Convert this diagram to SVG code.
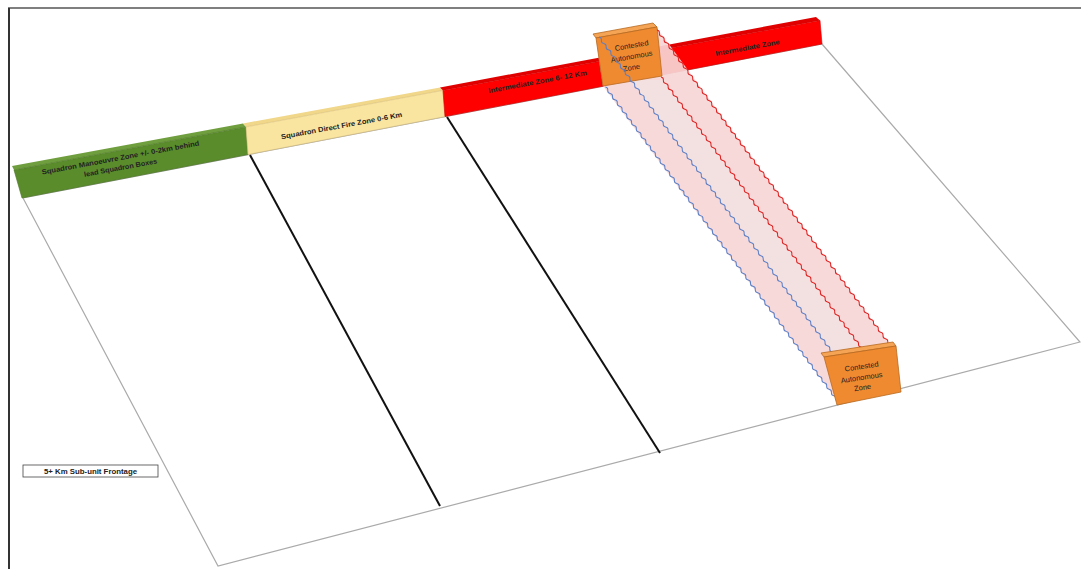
<svg xmlns="http://www.w3.org/2000/svg" width="1081" height="569" viewBox="0 0 1081 569">
<style>
.t{font-family:"Liberation Sans",Arial,sans-serif;fill:#222;text-anchor:middle}
.b{font-weight:bold;font-size:7px}
.n{font-size:7.5px}
.edge{fill:none;stroke:#aaa;stroke-width:1.2}
.div{stroke:#111;stroke-width:2;fill:none}
.wb{stroke:#5b7fc7;stroke-width:1;fill:none}
.wr{stroke:#e02020;stroke-width:1;fill:none}
.box{fill:#f08a30;stroke:#b8691f;stroke-width:0.8}
.boxtop{fill:#f5a455;stroke:#b8691f;stroke-width:0.8}
</style>
<defs>
<path id="wave" pathLength="404" d="M0 0 q2 -1.8 4 0 t4 0 t4 0 t4 0 t4 0 t4 0 t4 0 t4 0 t4 0 t4 0 t4 0 t4 0 t4 0 t4 0 t4 0 t4 0 t4 0 t4 0 t4 0 t4 0 t4 0 t4 0 t4 0 t4 0 t4 0 t4 0 t4 0 t4 0 t4 0 t4 0 t4 0 t4 0 t4 0 t4 0 t4 0 t4 0 t4 0 t4 0 t4 0 t4 0 t4 0 t4 0 t4 0 t4 0 t4 0 t4 0 t4 0 t4 0 t4 0 t4 0 t4 0 t4 0 t4 0 t4 0 t4 0 t4 0 t4 0 t4 0 t4 0 t4 0 t4 0 t4 0 t4 0 t4 0 t4 0 t4 0 t4 0 t4 0 t4 0 t4 0 t4 0 t4 0 t4 0 t4 0 t4 0 t4 0 t4 0 t4 0 t4 0 t4 0 t4 0 t4 0 t4 0 t4 0 t4 0 t4 0 t4 0 t4 0 t4 0 t4 0 t4 0 t4 0 t4 0 t4 0 t4 0 t4 0 t4 0 t4 0 t4 0 t4 0 t4 0 t4 0 t4 0"/>
</defs>
<rect width="1081" height="569" fill="#fff"/>
<g id="frame">
<line x1="8" y1="8" x2="1081" y2="8" stroke="#555" stroke-width="1.5"/>
<line x1="9" y1="8" x2="9" y2="569" stroke="#333" stroke-width="2"/>
</g>
<g id="ground">
<polygon class="edge" points="23,198 218,566 1080,342 822,44"/>
</g>
<g id="connectors">
<line class="div" x1="250" y1="155" x2="440" y2="506"/>
<line class="div" x1="447" y1="117" x2="660" y2="453"/>
</g>
<g id="zone-manoeuvre">
<polygon points="12,166 243,123.5 246,126.9 14,170" fill="#6f9e3e"/>
<polygon points="14,170 246,126.9 248,154.5 22,198" fill="#5a8c2c" stroke="#4a7422" stroke-width="0.6"/>
<text class="t b" transform="rotate(-10.5 121 160)" x="121" y="160" textLength="160" lengthAdjust="spacingAndGlyphs">Squadron Manoeuvre Zone  +/- 0-2km behind</text>
<text class="t b" transform="rotate(-10.5 121 170)" x="121" y="170" textLength="74" lengthAdjust="spacingAndGlyphs">lead Squadron Boxes</text>
</g>
<g id="zone-direct-fire">
<polygon points="243,123.5 440,87.4 443,90.4 246,126.9" fill="#f0d78a"/>
<polygon points="246,126.9 443,90.4 445,116.6 248,154.5" fill="#f9e4a0" stroke="#d8c07a" stroke-width="0.6"/>
<text class="t b" transform="rotate(-10.5 342 128)" x="342" y="128" textLength="123" lengthAdjust="spacingAndGlyphs">Squadron Direct Fire Zone 0-6 Km</text>
</g>
<g id="zone-intermediate">
<polygon points="440,87.4 816,17 820,20.4 443,90.4" fill="#e00000"/>
<polygon points="443,90.4 820,20.4 822,44 445,116.6" fill="#ff0000" stroke="#d00000" stroke-width="0.6"/>
<text class="t b" transform="rotate(-10.5 538 84)" x="538" y="84" textLength="100" lengthAdjust="spacingAndGlyphs">Intermediate Zone 6- 12 Km</text>
<text class="t b" transform="rotate(-10.5 748 50)" x="748" y="50" textLength="65" lengthAdjust="spacingAndGlyphs">Intermediate Zone</text>
</g>
<g id="corridor">
<polygon points="603,86 596,40 657,28 888,342 833,395" fill="#f7d6d6" opacity="0.92"/>
<polygon points="631,80 663,80 861,347 832,351" fill="#f1e4e4" opacity="0.7"/>
</g>
<g id="contested-zone-top">
<polygon class="boxtop" points="593,34 653,23 657,27 596,38"/>
<polygon class="box" points="596,38 657,27 662,76 603,86"/>
<text class="t n" transform="rotate(-10 632 48)" x="632" y="48">Contested</text>
<text class="t n" transform="rotate(-10 632 59)" x="632" y="59">Autonomous</text>
<text class="t n" transform="rotate(-10 632 70)" x="632" y="70">Zone</text>
</g>
<g id="corridor-lines">
<use href="#wave" class="wb" transform="translate(605.4 87) rotate(53.5)" style="stroke-dasharray:383 600"/>
<use href="#wave" class="wb" transform="translate(599 37) rotate(53.5)" style="stroke-dasharray:391 600"/>
<use href="#wave" class="wr" transform="translate(661 77) rotate(53.5)" style="stroke-dasharray:336 600"/>
<use href="#wave" class="wr" transform="translate(657 30) rotate(53.5)" style="stroke-dasharray:388 600"/>
</g>
<g id="contested-zone-bottom">
<polygon class="boxtop" points="821,353 893,342 896,346 824,357"/>
<polygon class="box" points="824,357 896,346 901,392 837,405"/>
<text class="t n" transform="rotate(-8.7 862 369)" x="862" y="369">Contested</text>
<text class="t n" transform="rotate(-8.7 862 380)" x="862" y="380">Autonomous</text>
<text class="t n" transform="rotate(-8.7 863 390)" x="863" y="390">Zone</text>
</g>
<g id="frontage-label">
<rect x="23" y="465" width="135" height="12" fill="#fff" stroke="#444" stroke-width="0.8"/>
<text class="t b" x="90.5" y="473.5" textLength="93" lengthAdjust="spacingAndGlyphs">5+ Km Sub-unit Frontage</text>
</g>
</svg>
